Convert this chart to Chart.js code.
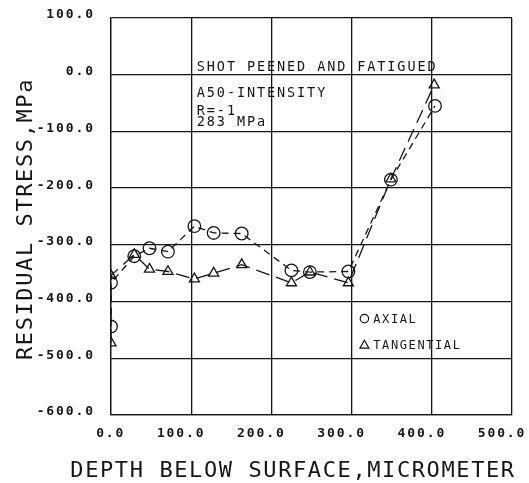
<!DOCTYPE html>
<html>
<head>
<meta charset="utf-8">
<script src="https://cdn.jsdelivr.net/npm/chart.js@4"></script>
<style>
  html, body { margin: 0; padding: 0; background: #fff; }
  #wrap { width: 529px; height: 483px; }
</style>
</head>
<body>
<div id="wrap"><canvas id="chart" width="529" height="483"></canvas></div>
<script>
// values (depth in micrometer, stress in MPa)
const depthAxial = [0, 0, 29, 48, 71, 104, 128, 163, 225, 248, 296, 349, 404];
const stressAxial = [-444, -367, -320, -306, -312, -267, -279, -280, -345, -348, -347, -185, -55];
const depthTangential = [0, 0, 29, 48, 71, 104, 128, 163, 225, 248, 296, 349, 403];
const stressTangential = [-473, -354, -317, -343, -347, -360, -350, -335, -367, -348, -367, -184, -18];

const seriesNames = ["AXIAL", "TANGENTIAL"];
const xTicks = [0, 100, 200, 300, 400, 500];
const yTicks = [100, 0, -100, -200, -300, -400, -500, -600];
const noteLines = ["SHOT PEENED AND FATIGUED", "A50-INTENSITY", "R=-1", "283 MPa"];
const xTitle = "DEPTH BELOW SURFACE,MICROMETER";
const yTitle = "RESIDUAL STRESS,MPa";

const ink = "#161616";

function toPoints(xs, ys) {
    return xs.map((v, i) => ({ x: v, y: ys[i] }));
}

// annotation text, legend and axis titles
const overlay = {
    id: "overlay",
    beforeDraw(chart) {
        chart.ctx.letterSpacing = "1.9px"; // widen tick labels
    },
    afterDraw(chart) {
        const ctx = chart.ctx;
        const xs = chart.scales.x, ys = chart.scales.y;
        ctx.save();
        ctx.fillStyle = ink;
        ctx.strokeStyle = ink;
        ctx.textAlign = "left";
        ctx.textBaseline = "alphabetic";

        // note block in upper middle
        ctx.font = '13.5px "DejaVu Sans Mono"';
        ctx.letterSpacing = "1.9px";
        const noteX = xs.getPixelForValue(107);
        const noteYs = [71, 97, 115, 126];
        noteLines.forEach((t, i) => ctx.fillText(t, noteX, noteYs[i]));

        // legend inside the plot
        ctx.font = '12px "DejaVu Sans Mono"';
        ctx.letterSpacing = "1.6px";
        ctx.lineWidth = 1.2;
        ctx.setLineDash([]);
        const mx = xs.getPixelForValue(316);
        const tx = xs.getPixelForValue(327);
        const rowY = [ys.getPixelForValue(-430), ys.getPixelForValue(-476)];
        // circle
        ctx.beginPath();
        ctx.arc(mx, rowY[0], 4.2, 0, Math.PI * 2);
        ctx.stroke();
        ctx.fillText(seriesNames[0], tx, rowY[0] + 4.5);
        // triangle
        ctx.beginPath();
        ctx.moveTo(mx, rowY[1] - 4.5);
        ctx.lineTo(mx + 4.5, rowY[1] + 3.5);
        ctx.lineTo(mx - 4.5, rowY[1] + 3.5);
        ctx.closePath();
        ctx.stroke();
        ctx.fillText(seriesNames[1], tx, rowY[1] + 4.5);

        // axis titles
        ctx.font = '22px "DejaVu Sans Mono"';
        ctx.letterSpacing = "1.6px";
        ctx.textAlign = "center";
        ctx.fillText(xTitle, 293, 477);
        ctx.save();
        ctx.translate(32, 219);
        ctx.rotate(-Math.PI / 2);
        ctx.fillText(yTitle, 0, 0);
        ctx.restore();

        ctx.restore();
    }
};

const ctx = document.getElementById("chart").getContext("2d");
new Chart(ctx, {
    type: "line",
    data: {
        datasets: [
            {
                label: seriesNames[0],
                data: toPoints(depthAxial, stressAxial),
                borderColor: ink,
                borderWidth: 1.3,
                borderDash: [7, 5],
                pointStyle: "circle",
                pointRadius: 6.3,
                pointBorderWidth: 1.3,
                pointBorderColor: ink,
                pointBackgroundColor: "transparent",
                fill: false,
                tension: 0
            },
            {
                label: seriesNames[1],
                data: toPoints(depthTangential, stressTangential),
                borderColor: ink,
                borderWidth: 1.3,
                borderDash: [14, 7],
                pointStyle: "triangle",
                pointRadius: 5.8,
                pointBorderWidth: 1.3,
                pointBorderColor: ink,
                pointBackgroundColor: "transparent",
                fill: false,
                tension: 0
            }
        ]
    },
    options: {
        responsive: false,
        animation: false,
        layout: { padding: { top: 18, right: 17, left: 0, bottom: 0 } },
        plugins: {
            legend: { display: false },
            tooltip: { enabled: false }
        },
        scales: {
            x: {
                type: "linear",
                min: 0,
                max: 500,
                afterBuildTicks: s => { s.ticks = xTicks.map(v => ({ value: v })); },
                afterFit: s => { s.height = 68; s.paddingLeft = 0; s.paddingRight = 0; },
                grid: { color: ink, lineWidth: 1.3, drawTicks: false },
                border: { color: ink, width: 1.3 },
                ticks: {
                    color: ink,
                    font: { family: "DejaVu Sans Mono", size: 13, weight: "bold" },
                    padding: 11,
                    labelOffset: -10,
                    maxRotation: 0,
                    callback: v => Number(v).toFixed(1).padStart(5, " ")
                }
            },
            y: {
                type: "linear",
                min: -600,
                max: 100,
                afterBuildTicks: s => { s.ticks = yTicks.map(v => ({ value: v })); },
                afterFit: s => { s.width = 111; s.paddingTop = 0; s.paddingBottom = 0; },
                grid: { color: ink, lineWidth: 1.3, drawTicks: false },
                border: { color: ink, width: 1.3 },
                ticks: {
                    color: ink,
                    font: { family: "DejaVu Sans Mono", size: 13, weight: "bold" },
                    padding: 16,
                    labelOffset: -3,
                    callback: v => Number(v).toFixed(1)
                }
            }
        }
    },
    plugins: [overlay]
});
</script>
</body>
</html>
